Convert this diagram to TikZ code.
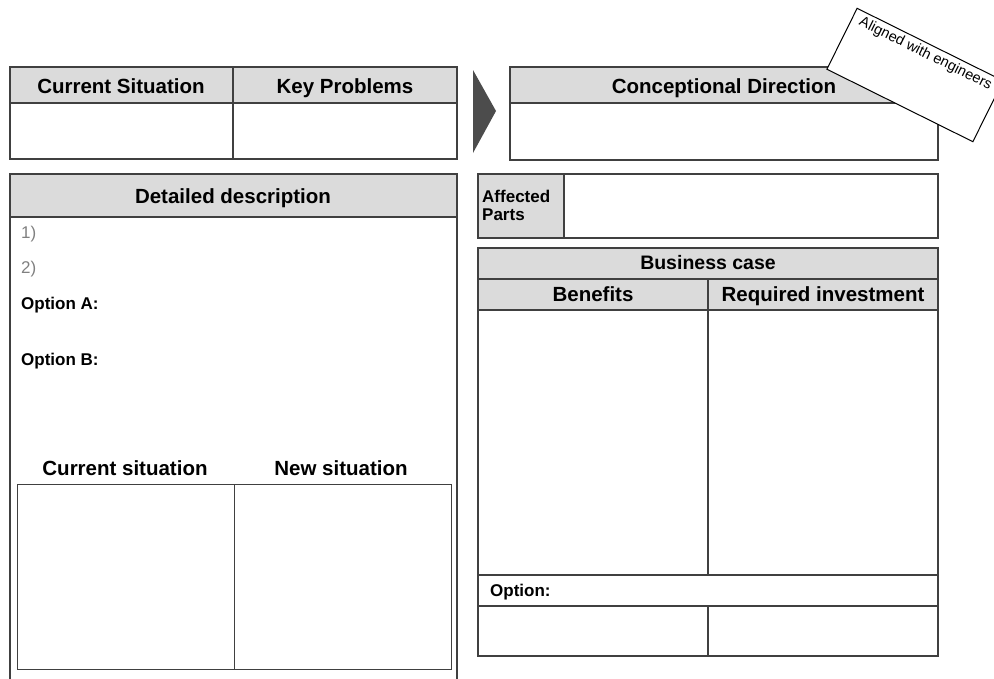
\documentclass[tikz,border=0pt]{standalone}
\usepackage{fontspec}
\setmainfont{Liberation Sans}
\begin{document}
\begin{tikzpicture}[x=1pt,y=-1pt,
  ln/.style={draw=black!75,line width=1.3pt},
  hdr/.style={ln,fill=black!14},
  hd/.style={font=\bfseries\fontsize{20.5}{22}\selectfont,inner sep=0pt,anchor=base},
  lb/.style={font=\bfseries\fontsize{17}{18}\selectfont,inner sep=0pt,anchor=base west},
  num/.style={font=\fontsize{17}{18}\selectfont,text=black!50,inner sep=0pt,anchor=base west}]
\useasboundingbox (0,0) rectangle (994,678);
% top-left table
\draw[hdr] (10,67) rectangle (457,103);
\draw[ln] (10,103) rectangle (457,159);
\draw[ln] (233,67) -- (233,159);
\node[hd] (cs) at (121,93) {Current Situation};
\node[hd] (kp) at (345,93) {Key Problems};
% arrow
\fill[black!70] (473,70) -- (496,111) -- (473,153) -- cycle;
% conceptional direction
\draw[hdr] (510,67) rectangle (938,103);
\draw[ln] (510,103) rectangle (938,160);
\node[hd] (cd) at (724,93) {Conceptional Direction};
% rotated note
\node[draw=black,line width=1pt,fill=white,rotate=-26.4,minimum width=163pt,minimum height=68pt,inner sep=0pt] (note) at (915,75) {};
\node[rotate=-26.4,anchor=north,font=\fontsize{14.5}{15}\selectfont,inner sep=0pt,yshift=-4pt] (notet) at (note.north) {Aligned with engineers};
% detailed description
\draw[hdr] (10,174) rectangle (457,217);
\draw[ln] (10,217) -- (10,680) (457,217) -- (457,680);
\node[hd] (dd) at (233,203) {Detailed description};
\node[num] (n1) at (21,238) {1)};
\node[num] (n2) at (21,273) {2)};
\node[lb] (oa) at (21,309) {Option A:};
\node[lb] (ob) at (21,365) {Option B:};
\node[hd] (cs2) at (125,475) {Current situation};
\node[hd] (ns2) at (341,475) {New situation};
\draw[ln,line width=1pt] (17,484) rectangle (451,669);
\draw[ln,line width=1pt] (234,484) -- (234,669);
% affected parts
\draw[hdr] (478,174) rectangle (564,238);
\draw[ln] (564,174) rectangle (938,238);
\node[lb] (ap1) at (482,202) {Affected};
\node[lb] (ap2) at (482,220) {Parts};
% business case
\draw[hdr] (478,248) rectangle (938,310);
\draw[ln] (478,279) -- (938,279);
\draw[ln] (708,279) -- (708,310);
\node[hd,font=\bfseries\fontsize{19.5}{21}\selectfont] (bc) at (708,269) {Business case};
\node[hd] (be) at (593,301) {Benefits};
\node[hd] (ri) at (823,301) {Required investment};
\draw[ln] (478,310) rectangle (938,656);
\draw[ln] (708,310) -- (708,575);
\draw[ln] (478,575) -- (938,575);
\draw[ln] (478,606) -- (938,606);
\draw[ln] (708,606) -- (708,656);
\node[lb] (op) at (490,596) {Option:};
\end{tikzpicture}
\end{document}
